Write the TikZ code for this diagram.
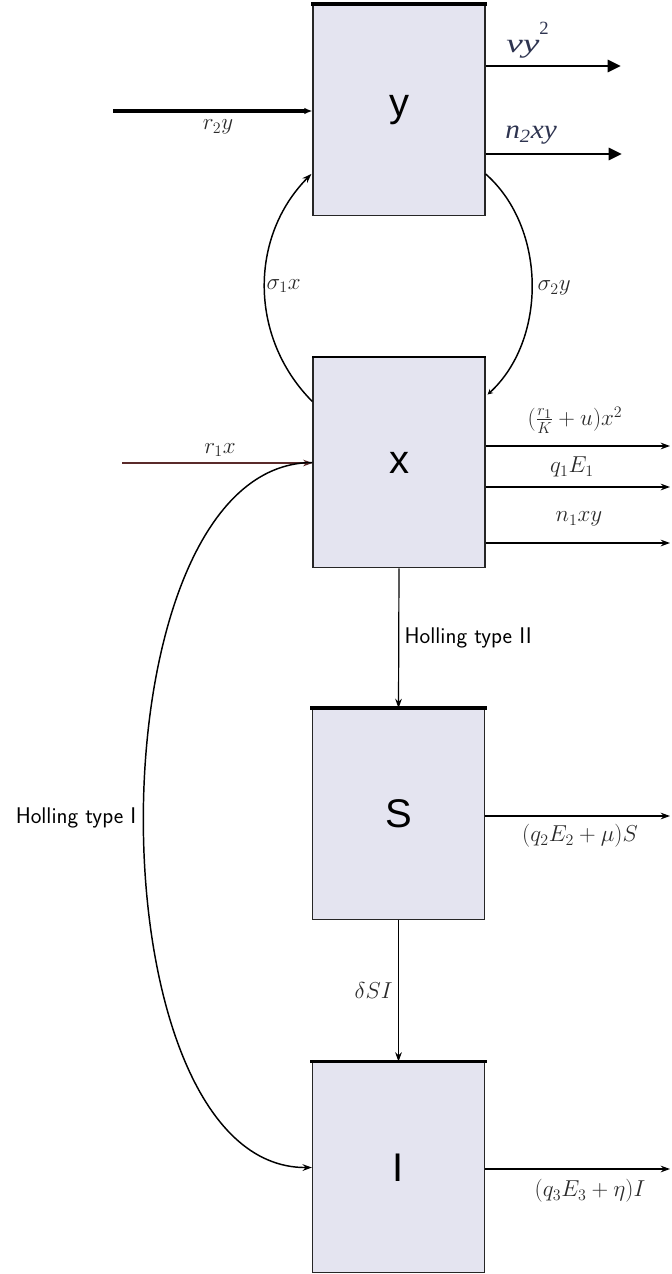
\documentclass[tikz,border=0pt]{standalone}
\usepackage{fontspec}
\usepackage{graphicx}
\newfontfamily\boxfont{Liberation Sans}
\newfontfamily\timesf{Liberation Serif}
\usetikzlibrary{arrows.meta,calc}
\definecolor{boxfill}{HTML}{E4E4F0}
\definecolor{lblblue}{HTML}{2E3450}
\definecolor{lblgray}{HTML}{2A2A2A}
\definecolor{redline}{HTML}{5A2A2A}
\begin{document}
\begin{tikzpicture}[x=0.75pt,y=-0.75pt,
  box/.style={draw=black!85, line width=0.9pt, fill=boxfill, minimum width=129pt,
    minimum height=158pt, inner sep=0pt, font=\boxfont\fontsize{30}{36}\selectfont},
  topedge/.style={line width=2.4pt, line cap=rect},
  mlbl/.style={font=\fontsize{17.28}{20}\selectfont, text=lblgray, inner sep=1pt},
  tlbl/.style={font=\timesf\itshape\fontsize{20}{24}\selectfont, text=lblblue, inner sep=0pt},
  hold/.style={font=\sffamily\fontsize{17}{20}\selectfont, inner sep=1pt},
  thinarr/.style={-{Stealth[length=7pt,width=5pt]}, line width=0.9pt},
  thickarr/.style={-{Triangle[length=10pt,width=9pt]}, line width=2.2pt},
  curve/.style={line width=1.1pt, -{Stealth[length=7pt,width=5pt]}}]
\useasboundingbox (0,0) rectangle (671,1274);

% boxes
\node[box] (y) at (399,110) {y};
\node[box] (x) at (399,462.5) {x};
\node[box] (S) at (398.5,814) {S};
\node[box] (I) at (398.5,1167.5) {I};
\foreach \b in {y,S,I}{
  \draw[topedge] (\b.north west) -- (\b.north east);
}
\draw[line width=1.4pt] (x.north west) -- (x.north east);

% y inflow / outflows
\coordinate (r2s) at (113,111);
\draw[-{Latex[length=6pt,width=5pt]}, line width=3pt] (r2s) -- (r2s -| y.west);
\node[mlbl] (lr2) at (218,127) {$r_2y$};
\coordinate (vyE) at (621,66);
\draw[thickarr] (vyE -| y.east) -- (vyE);
\node[tlbl, anchor=base west] (lvy) at (506,52) {\scalebox{1.4}[1]{vy}\raisebox{13pt}{\fontsize{14}{14}\selectfont\upshape 2}};
\coordinate (n2E) at (622,154);
\draw[thickarr] (n2E -| y.east) -- (n2E);
\node[tlbl, anchor=base west] (ln2) at (505,138) {\scalebox{1.1}[1]{n\textsubscript{2}xy}};

% sigma curves
\coordinate (s1a) at ($(x.north west)+(0,45)$);
\coordinate (s1b) at ($(y.south west)+(-1,-42)$);
\draw[curve] (s1a) .. controls (249,338) and (249,237) .. (s1b);
\node[mlbl, anchor=west] (ls1) at (265,286) {$\sigma_1x$};
\coordinate (s2a) at ($(y.south east)+(0,-42)$);
\coordinate (s2b) at ($(x.north east)+(2,38)$);
\draw[line width=1.1pt, -{Stealth[length=4pt,width=4pt]}] (s2a) .. controls (547,228) and (547,340) .. (s2b);
\node[mlbl, anchor=west] (ls2) at (536,288) {$\sigma_2y$};

% x inflow / outflows
\coordinate (r1s) at (122,463);
\draw[thinarr, draw=redline, line width=0.8pt] (r1s) -- (r1s -| x.west);
\node[mlbl] (lr1) at (220,450) {$r_1x$};
\coordinate (o1) at (670,446);
\draw[thinarr, line width=1.6pt] (o1 -| x.east) -- (o1);
\node[mlbl] (lo1) at (575,420) {$(\frac{r_1}{K}+u)x^2$};
\coordinate (o2) at (670,487);
\draw[thinarr, line width=1.1pt] (o2 -| x.east) -- (o2);
\node[mlbl] (lo2) at (572,467) {$q_1E_1$};
\coordinate (o3) at (670,543);
\draw[thinarr, line width=1.6pt] (o3 -| x.east) -- (o3);
\node[mlbl] (lo3) at (579,519) {$n_1xy$};

% vertical flows
\draw[thinarr] (x.south) -- (S.north) node[midway, right=3pt, hold] {Holling type II};
\draw[thinarr] (S.south) -- (I.north) node[midway, left=3pt, mlbl] {$\delta SI$};

% S and I outflows
\coordinate (so) at (670,816);
\draw[thinarr] (so -| S.east) -- (so);
\node[mlbl] (lso) at (580,836) {$(q_2E_2+\mu)S$};
\coordinate (io) at (670,1169);
\draw[thinarr] (io -| I.east) -- (io);
\node[mlbl] (lio) at (590,1191) {$(q_3E_3+\eta)I$};

% Holling type I curve
\draw[curve] (x.west) .. controls (88,463) and (88,1169) .. (I.west);
\node[hold] (lh1) at (76,818) {Holling type I};
\end{tikzpicture}
\end{document}
